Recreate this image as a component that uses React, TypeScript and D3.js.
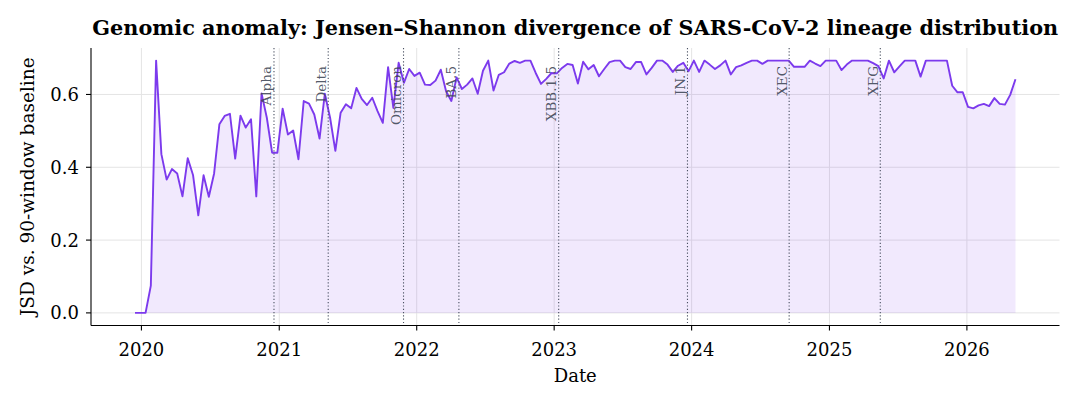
import * as d3 from 'd3';
import { useEffect, useRef } from 'react';

// biweekly JSD samples, first sample 2019-12-15
const startDate = new Date(Date.UTC(2019, 11, 15));
const stepDays = 14;
const jsdValues = [
  0, 0, 0, 0.075, 0.693, 0.436, 0.366, 0.395, 0.383, 0.32,
  0.425, 0.379, 0.268, 0.378, 0.319, 0.383, 0.518, 0.541, 0.547, 0.424,
  0.542, 0.509, 0.532, 0.32, 0.603, 0.536, 0.44, 0.44, 0.561, 0.49,
  0.501, 0.422, 0.582, 0.575, 0.545, 0.479, 0.602, 0.536, 0.445, 0.55,
  0.573, 0.562, 0.618, 0.588, 0.571, 0.591, 0.554, 0.522, 0.675, 0.563,
  0.687, 0.632, 0.67, 0.651, 0.66, 0.627, 0.626, 0.638, 0.668, 0.609,
  0.582, 0.647, 0.615, 0.627, 0.644, 0.602, 0.665, 0.693, 0.611, 0.654,
  0.661, 0.685, 0.692, 0.687, 0.693, 0.693, 0.659, 0.629, 0.643, 0.659,
  0.658, 0.673, 0.684, 0.681, 0.63, 0.69, 0.669, 0.681, 0.65, 0.67,
  0.689, 0.693, 0.693, 0.675, 0.67, 0.689, 0.689, 0.655, 0.673, 0.693,
  0.693, 0.682, 0.662, 0.679, 0.687, 0.664, 0.693, 0.662, 0.693, 0.682,
  0.67, 0.68, 0.693, 0.655, 0.675, 0.68, 0.687, 0.693, 0.693, 0.684,
  0.693, 0.693, 0.693, 0.693, 0.693, 0.676, 0.676, 0.676, 0.693, 0.685,
  0.678, 0.693, 0.693, 0.693, 0.667, 0.682, 0.693, 0.693, 0.693, 0.693,
  0.686, 0.678, 0.644, 0.693, 0.661, 0.677, 0.693, 0.693, 0.693, 0.649,
  0.693, 0.693, 0.693, 0.693, 0.693, 0.624, 0.606, 0.606, 0.566, 0.562,
  0.57, 0.574, 0.568, 0.59, 0.574, 0.572, 0.599, 0.642,
];

const lineageNames = ['Alpha', 'Delta', 'Omicron', 'BA.5', 'XBB.1.5', 'JN.1', 'XEC', 'XFG'];
const lineageDates = [
  '2020-12-18', '2021-05-11', '2021-11-27', '2022-04-23',
  '2023-01-13', '2023-12-21', '2024-09-16', '2025-05-16',
];

const yTicks = [0, 0.2, 0.4, 0.6];
const xTickYears = [2020, 2021, 2022, 2023, 2024, 2025, 2026];

const W = 1080, H = 405;
const margin = { left: 91, right: 20.5, top: 48, bottom: 79.5 };
const serif = '"DejaVu Serif", serif';

const App = () => {
  const ref = useRef<SVGSVGElement>(null);

  useEffect(() => {
    const svg = d3.select(ref.current);
    svg.selectAll('*').remove();

    const data = jsdValues.map((v, i) => ({ date: d3.utcDay.offset(startDate, i * stepDays), value: v }));
    const x0 = data[0].date.getTime(), x1 = data[data.length - 1].date.getTime();
    const padX = (x1 - x0) * 0.05;
    const yMax = d3.max(jsdValues) as number;
    const padY = yMax * 0.05;

    const x = d3.scaleUtc().domain([new Date(x0 - padX), new Date(x1 + padX)]).range([margin.left, W - margin.right]);
    const y = d3.scaleLinear().domain([-padY, yMax + padY]).range([H - margin.bottom, margin.top]);

    const top = margin.top, bottom = H - margin.bottom;
    const left = margin.left, right = W - margin.right;
    const xTicks = xTickYears.map((yr) => new Date(Date.UTC(yr, 0, 1)));

    // grid
    const grid = svg.append('g');
    grid.selectAll('.gx').data(xTicks).enter().append('line')
      .attr('x1', (d) => x(d)).attr('x2', (d) => x(d))
      .attr('y1', top).attr('y2', bottom)
      .attr('stroke', '#e4e4e4').attr('stroke-width', 1);
    grid.selectAll('.gy').data(yTicks).enter().append('line')
      .attr('x1', left).attr('x2', right)
      .attr('y1', (d) => y(d)).attr('y2', (d) => y(d))
      .attr('stroke', '#e4e4e4').attr('stroke-width', 1);

    // fill + line
    const area = d3.area<any>().x((d) => x(d.date)).y0(y(0)).y1((d) => y(d.value));
    const line = d3.line<any>().x((d) => x(d.date)).y((d) => y(d.value));
    svg.append('path').attr('d', area(data) as string).attr('fill', '#7c3aed').attr('fill-opacity', 0.11);
    svg.append('path').attr('d', line(data) as string).attr('fill', 'none')
      .attr('stroke', '#7c3aed').attr('stroke-width', 1.9).attr('stroke-linejoin', 'round');

    // lineage markers
    const ev = svg.append('g');
    lineageDates.forEach((ds, i) => {
      const xp = x(new Date(ds + 'T00:00:00Z'));
      ev.append('line')
        .attr('x1', xp).attr('x2', xp).attr('y1', top).attr('y2', bottom)
        .attr('stroke', '#4b5263').attr('stroke-width', 1.1)
        .attr('stroke-dasharray', '1.2,2.1');
      ev.append('text')
        .attr('transform', `translate(${xp - 2.5},${66}) rotate(-90)`)
        .attr('text-anchor', 'end')
        .attr('font-family', serif).attr('font-size', 13.5)
        .attr('fill', '#3d4554').attr('fill-opacity', 0.9)
        .text(lineageNames[i]);
    });

    // axes
    const ax = svg.append('g');
    ax.append('line').attr('x1', left).attr('x2', left).attr('y1', top).attr('y2', bottom)
      .attr('stroke', '#000').attr('stroke-width', 1.1);
    ax.append('line').attr('x1', left).attr('x2', right).attr('y1', bottom).attr('y2', bottom)
      .attr('stroke', '#000').attr('stroke-width', 1.1);

    xTicks.forEach((d) => {
      ax.append('line').attr('x1', x(d)).attr('x2', x(d)).attr('y1', bottom).attr('y2', bottom + 5)
        .attr('stroke', '#000').attr('stroke-width', 1.1);
      ax.append('text').attr('x', x(d)).attr('y', bottom + 30).attr('text-anchor', 'middle')
        .attr('font-family', serif).attr('font-size', 18).attr('fill', '#000')
        .text(d3.utcFormat('%Y')(d));
    });
    yTicks.forEach((d) => {
      ax.append('line').attr('x1', left - 5).attr('x2', left).attr('y1', y(d)).attr('y2', y(d))
        .attr('stroke', '#000').attr('stroke-width', 1.1);
      ax.append('text').attr('x', left - 12).attr('y', y(d)).attr('dy', '0.36em').attr('text-anchor', 'end')
        .attr('font-family', serif).attr('font-size', 18).attr('fill', '#000')
        .text(d3.format('.1f')(d));
    });

    svg.append('text').attr('x', (left + right) / 2).attr('y', 382).attr('text-anchor', 'middle')
      .attr('font-family', serif).attr('font-size', 18).attr('fill', '#000').text('Date');
    svg.append('text').attr('transform', `translate(34,${(top + bottom) / 2}) rotate(-90)`)
      .attr('text-anchor', 'middle')
      .attr('font-family', serif).attr('font-size', 18.5).attr('fill', '#000')
      .text('JSD vs. 90-window baseline');
    svg.append('text').attr('x', (left + right) / 2).attr('y', 35).attr('text-anchor', 'middle')
      .attr('font-family', serif).attr('font-size', 20.8).attr('font-weight', 'bold').attr('fill', '#000')
      .text('Genomic anomaly: Jensen\u2013Shannon divergence of SARS-CoV-2 lineage distribution');
  }, []);

  return (
    <div style={{ position: 'fixed', left: 0, top: 0, background: '#fff' }}>
      <svg ref={ref} width={W} height={H} style={{ display: 'block' }} />
    </div>
  );
};

export default App;
